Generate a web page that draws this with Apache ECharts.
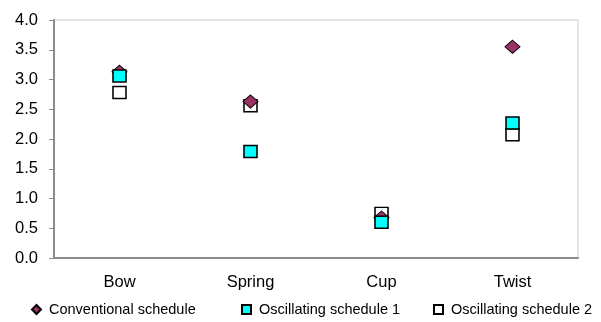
<!DOCTYPE html>
<html>
<head>
<meta charset="utf-8">
<script src="https://cdn.jsdelivr.net/npm/echarts@6/dist/echarts.min.js"></script>
<style>
  html, body { margin: 0; padding: 0; background: #fff; }
  #chart { width: 601px; height: 322px; }
</style>
</head>
<body>
<div id="chart"></div>
<script>
// Bending modes on the x axis
const categories = ['Bow', 'Spring', 'Cup', 'Twist'];

// Measured deviation per schedule
const conventional = [3.13, 2.63, 0.68, 3.55];
const oscillating1 = [3.06, 1.79, 0.60, 2.27];
const oscillating2 = [2.78, 2.56, 0.75, 2.07];

const yTicks = [0.0, 0.5, 1.0, 1.5, 2.0, 2.5, 3.0, 3.5, 4.0];

const seriesNames = ['Conventional schedule', 'Oscillating schedule 1', 'Oscillating schedule 2'];

const FONT = 'Liberation Sans, Arial, sans-serif';

const chart = echarts.init(document.getElementById('chart'), null, { renderer: 'canvas' });

function legendAt(name, left) {
  return {
    data: [name],
    left: left,
    top: 297,
    itemWidth: 9,
    itemHeight: 9,
    selectedMode: false,
    textStyle: { fontFamily: FONT, fontSize: 14.5, color: '#000', padding: [0, 0, 0, 3] }
  };
}

chart.setOption({
  animation: false,
  backgroundColor: '#fff',
  grid: {
    left: 54, right: 23, top: 20, bottom: 64,
    show: true, borderColor: '#c8c8c8', borderWidth: 1, backgroundColor: 'transparent'
  },
  legend: [
    legendAt(seriesNames[0], 26),
    legendAt(seriesNames[1], 236),
    legendAt(seriesNames[2], 428)
  ],
  xAxis: {
    type: 'category',
    data: categories,
    boundaryGap: true,
    axisLine: { lineStyle: { color: '#8c8c8c', width: 2 } },
    axisTick: { show: false },
    axisLabel: { color: '#000', fontFamily: FONT, fontSize: 16.5, margin: 16 },
    splitLine: { show: false }
  },
  yAxis: {
    type: 'value',
    min: 0, max: 4, interval: 0.5,
    axisLine: { show: true, lineStyle: { color: '#8c8c8c', width: 2 } },
    axisTick: { show: true, inside: false, length: 5, lineStyle: { color: '#8c8c8c', width: 1 } },
    axisLabel: {
      color: '#000', fontFamily: FONT, fontSize: 16.5, margin: 16,
      formatter: v => yTicks.includes(v) ? v.toFixed(1) : ''
    },
    splitLine: { show: false }
  },
  series: [
    {
      name: seriesNames[0], type: 'scatter', z: 3,
      symbol: 'diamond', symbolSize: [15, 13],
      itemStyle: { color: '#993366', borderColor: '#000', borderWidth: 1, opacity: 1 },
      data: conventional
    },
    {
      name: seriesNames[1], type: 'scatter', z: 4,
      symbol: 'rect', symbolSize: [13, 12],
      itemStyle: { color: '#00ffff', borderColor: '#000', borderWidth: 1.5, opacity: 1 },
      data: oscillating1
    },
    {
      name: seriesNames[2], type: 'scatter', z: 2,
      symbol: 'rect', symbolSize: [13, 12],
      itemStyle: { color: '#ffffff', borderColor: '#000', borderWidth: 1.5, opacity: 1 },
      data: oscillating2
    }
  ]
});
</script>
</body>
</html>
